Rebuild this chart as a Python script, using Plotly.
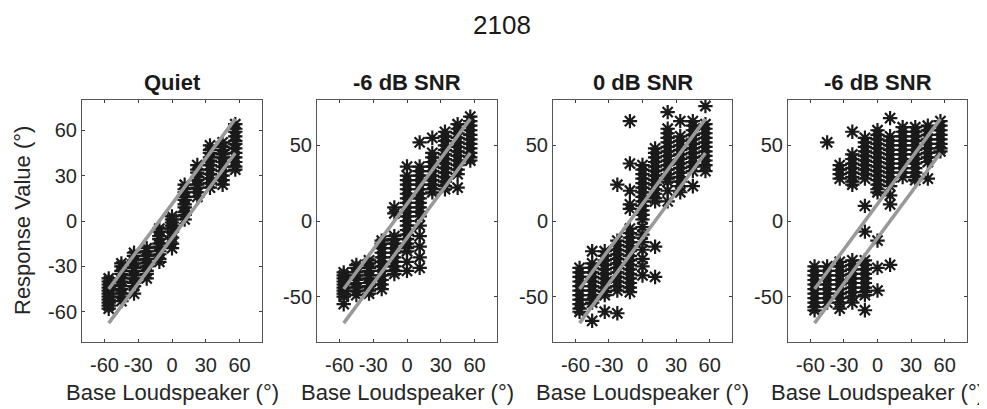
import plotly.graph_objects as go

# loudspeaker positions (deg)
speakers = [-56.25, -45, -33.75, -22.5, -11.25, 0, 11.25, 22.5, 33.75, 45, 56.25]

# responses, one list per loudspeaker column
quiet_resp = [
    [-38, -40, -42, -44, -46, -48, -50, -52, -54, -56, -58],
    [-28, -30, -33, -35, -38, -40, -43, -45, -48, -50, -53],
    [-21, -23, -26, -28, -31, -33, -36, -38, -41, -43, -48],
    [-18, -20, -23, -25, -28, -30, -33, -35, -38],
    [-5, -7, -10, -12, -15, -17, -20, -22, -25, -27],
    [3, 1, -1, -3, -5, -7, -11, -15, -18],
    [24, 21, 19, 16, 14, 11, 9, 6, 4, 1],
    [37, 34, 32, 29, 27, 24, 22, 19, 16],
    [50, 47, 45, 42, 40, 37, 34, 31, 28, 25, 22],
    [52, 49, 47, 44, 42, 39, 36, 33, 30, 27, 24],
    [64, 61, 59, 56, 53, 51, 48, 45, 42, 39, 36, 34],
]

snr_m6_resp = [
    [-34, -36, -38, -40, -42, -44, -46, -48, -50, -55],
    [-29, -31, -34, -36, -39, -41, -44, -46, -49],
    [-26, -28, -31, -33, -36, -38, -41, -43, -46, -48],
    [-13, -15, -18, -21, -24, -27, -30, -33, -36, -39, -42, -45],
    [9, 5, -10, -12, -15, -18, -21, -24, -27, -30, -33, -35],
    [36, 30, 27, 24, 21, 18, 15, 12, 9, 6, 3, 0, -3, -6, -9, -12, -15, -18, -20, -27, -33],
    [52, 36, 33, 30, 27, 24, 21, 18, 15, 12, 9, 6, 3, -3, -10, -17, -24, -31],
    [55, 45, 42, 39, 36, 33, 30, 27, 24, 21, 19],
    [59, 56, 53, 50, 47, 44, 41, 38, 35, 32, 29, 26, 23, 21],
    [64, 61, 58, 55, 52, 49, 46, 43, 40, 37, 34, 31, 22],
    [69, 66, 63, 60, 57, 54, 51, 48, 45, 42, 40],
]

snr_0_resp = [
    [-31, -34, -37, -40, -43, -46, -49, -52, -55, -58, -60],
    [-20, -28, -31, -34, -37, -40, -43, -46, -49, -52, -54, -66],
    [-20, -23, -26, -29, -32, -35, -38, -41, -44, -47, -49, -60],
    [24, -13, -16, -19, -22, -25, -28, -31, -34, -37, -40, -43, -46, -61],
    [66, 38, 20, 11, 8, -5, -8, -11, -14, -17, -20, -23, -26, -29, -32, -35, -38, -41, -44, -47],
    [37, 34, 31, 28, 25, 22, 19, 16, 13, 10, 7, 4, 1, -4, -9, -14, -19, -25, -30, -36],
    [48, 45, 42, 39, 36, 33, 30, 27, 24, 21, 18, 15, 13, -17, -37],
    [72, 61, 58, 55, 52, 49, 46, 43, 40, 37, 34, 31, 28, 26, 20, 13],
    [66, 56, 53, 50, 47, 44, 41, 38, 35, 32, 29, 26, 23, 19],
    [66, 63, 60, 57, 54, 51, 48, 45, 42, 39, 36, 33, 23],
    [76, 64, 61, 58, 55, 52, 49, 46, 43, 40, 37, 33],
]

snr_m6b_resp = [
    [-30, -33, -36, -39, -42, -45, -48, -51, -54, -57, -59],
    [52, -30, -33, -36, -39, -42, -45, -48, -51, -54],
    [37, 34, 31, 28, -27, -30, -33, -36, -39, -42, -45, -48, -51, -54, -58],
    [59, 44, 41, 38, 35, 32, 29, 26, 24, -26, -29, -32, -35, -38, -41, -44, -47, -50, -54],
    [55, 52, 49, 46, 43, 40, 37, 34, 31, 28, 10, -7, -26, -29, -32, -35, -38, -41, -44, -47, -49, -59],
    [60, 57, 54, 51, 48, 45, 42, 39, 36, 33, 30, 27, 24, 21, 19, -13, -31, -46],
    [68, 56, 53, 50, 47, 44, 41, 38, 35, 32, 29, 26, 23, 17, 11, -29],
    [62, 59, 56, 53, 50, 47, 44, 41, 38, 35, 32, 29],
    [62, 59, 56, 53, 50, 47, 44, 41, 38, 35, 32, 29, 27],
    [63, 60, 57, 54, 51, 48, 45, 42, 39, 28],
    [66, 63, 60, 57, 54, 51, 48, 46],
]

panel_titles = ['Quiet', '-6 dB SNR', '0 dB SNR', '-6 dB SNR']
panel_data = [quiet_resp, snr_m6_resp, snr_0_resp, snr_m6b_resp]

# +/- one loudspeaker reference lines
line_x = [-56.25, 56.25]
upper_y = [-45, 67.5]
lower_y = [-67.5, 45]

x_ticks = [-60, -30, 0, 30, 60]
x_ticktext = ['-60', '-30', '0', '30', '60']
y_ticks_quiet = [-60, -30, 0, 30, 60]
y_ticktext_quiet = ['-60', '-30', '0', '30', '60']
y_ticks_snr = [-50, 0, 50]
y_ticktext_snr = ['-50', '0', '50']

# page is 987x409 but the body has an 8px margin, so the figure is shifted
OFF = 8
W, H = 987 - OFF, 409 - OFF
FONT = 'Liberation Sans, Arial, sans-serif'
TXT = '#262626'


def px(x):
    return (x - OFF) / W


def py(y):
    return 1 - (y - OFF) / H


# axes boxes in page pixels (left, right), shared top/bottom
boxes = [(82, 262), (317, 497), (553, 732), (788, 967)]
top_px, bot_px = 100, 342
ydom = [py(bot_px), py(top_px)]

fig = go.Figure()
layout = {}
annotations = []

for i, (resp, title) in enumerate(zip(panel_data, panel_titles)):
    n = '' if i == 0 else str(i + 1)
    xs, ys = [], []
    for sx, col in zip(speakers, resp):
        xs += [sx] * len(col)
        ys += col
    fig.add_trace(go.Scatter(x=xs, y=ys, mode='markers', xaxis='x' + n, yaxis='y' + n,
                             marker=dict(symbol='asterisk-open', size=12, color='#1a1a1a',
                                         line=dict(color='#1a1a1a', width=2.2)),
                             showlegend=False, hoverinfo='skip'))
    for ly in (upper_y, lower_y):
        fig.add_trace(go.Scatter(x=line_x, y=ly, mode='lines', xaxis='x' + n, yaxis='y' + n,
                                 line=dict(color='#999999', width=3.5),
                                 showlegend=False, hoverinfo='skip'))

    l, r = boxes[i]
    layout['xaxis' + n] = dict(domain=[px(l), px(r)], anchor='y' + n, range=[-80, 80],
                               tickvals=x_ticks, ticktext=x_ticktext,
                               ticks='inside', ticklen=3, tickcolor='#404040',
                               ticklabelstandoff=5,
                               showline=True, linecolor='#555555', linewidth=1, mirror='ticks',
                               showgrid=False, zeroline=False,
                               tickfont=dict(family=FONT, size=20, color=TXT))
    yt = y_ticks_quiet if i == 0 else y_ticks_snr
    ytt = y_ticktext_quiet if i == 0 else y_ticktext_snr
    layout['yaxis' + n] = dict(domain=ydom, anchor='x' + n, range=[-80, 80],
                               tickvals=yt, ticktext=ytt,
                               ticks='inside', ticklen=3, tickcolor='#404040',
                               showline=True, linecolor='#555555', linewidth=1, mirror='ticks',
                               showgrid=False, zeroline=False,
                               tickfont=dict(family=FONT, size=20, color=TXT))

    cx = px((l + r) / 2)
    annotations.append(dict(x=cx, y=py(82), xref='paper', yref='paper', text='<b>' + title + '</b>',
                            showarrow=False, xanchor='center', yanchor='middle',
                            font=dict(family=FONT, size=22, color='#1a1a1a')))
    annotations.append(dict(x=cx, y=py(392), xref='paper', yref='paper', text='Base Loudspeaker (°)',
                            showarrow=False, xanchor='center', yanchor='middle',
                            font=dict(family=FONT, size=22, color=TXT)))

annotations.append(dict(x=px(22), y=py(221), xref='paper', yref='paper', text='Response Value (°)',
                        textangle=-90, showarrow=False, xanchor='center', yanchor='middle',
                        font=dict(family=FONT, size=22, color=TXT)))
# figure number, kept just inside the top edge
annotations.append(dict(x=px(502), y=1, xref='paper', yref='paper', text='2108',
                        showarrow=False, xanchor='center', yanchor='top',
                        font=dict(family=FONT, size=26, color='#1a1a1a')))

fig.update_layout(width=W, height=H, autosize=False,
                  margin=dict(l=0, r=0, t=0, b=0),
                  paper_bgcolor='white', plot_bgcolor='white',
                  annotations=annotations, **layout)

fig.write_html("out.html")
